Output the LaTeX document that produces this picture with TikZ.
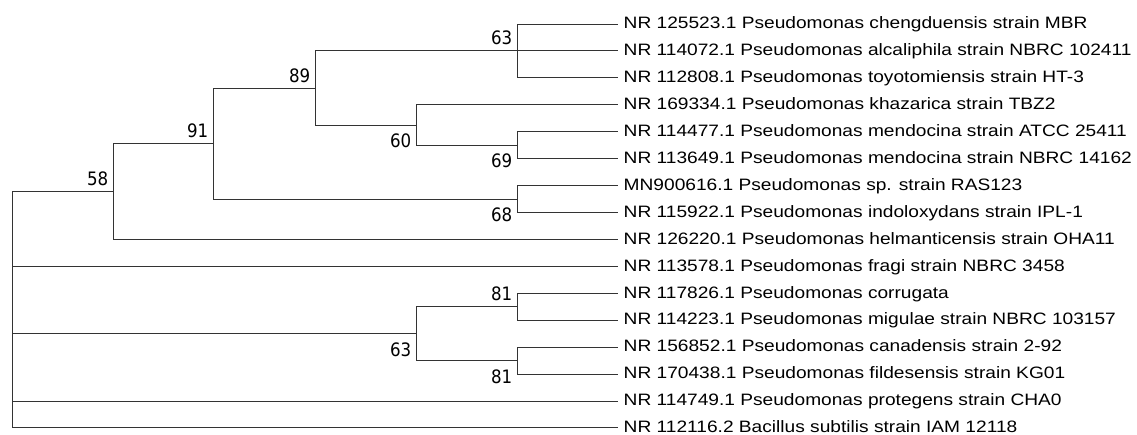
\documentclass[tikz,border=0pt]{standalone}
\usepackage{fontspec}
\newfontfamily\leaffont[FakeStretch=1.16]{Liberation Sans}
\newfontfamily\bsfont[FakeStretch=0.9]{DejaVu Sans}
\begin{document}
\begin{tikzpicture}[x=1pt,y=1pt,
  branch/.style={draw=black!80, line width=1pt},
  leaflab/.style={anchor=base west, inner sep=0pt, font=\leaffont\fontsize{16.5}{18}\selectfont},
  bsabove/.style={anchor=base east, inner sep=0pt, font=\bsfont\fontsize{18.5}{20}\selectfont, xshift=-4.5pt, yshift=6pt},
  bsbelow/.style={anchor=base east, inner sep=0pt, font=\bsfont\fontsize{18.5}{20}\selectfont, xshift=-4.5pt, yshift=-22.7pt}]
\useasboundingbox (0,0) rectangle (1137,-434);
% leaf ends
\foreach \i in {1,...,16}{
  \coordinate (t\i) at (618,{-(24+26.93*(\i-1))});
}
% internal nodes
\coordinate (n63a) at (517,-50.93);
\coordinate (n69) at (517,-145.2);
\coordinate (n60) at (416,-125.0);
\coordinate (n89) at (315,-88.0);
\coordinate (n68) at (517,-199.0);
\coordinate (n91) at (213,-143.5);
\coordinate (n58) at (113,-191.5);
\coordinate (n81a) at (517,-306.75);
\coordinate (n81b) at (517,-360.6);
\coordinate (n63b) at (416,-333.7);
\coordinate (root) at (12,-191.5);
% branches
\draw[branch] (root) |- (n58);
\draw[branch] (root) |- (t10);
\draw[branch] (root) |- (n63b);
\draw[branch] (root) |- (t15);
\draw[branch] (root) |- (t16);
\draw[branch] (n58) |- (n91);
\draw[branch] (n58) |- (t9);
\draw[branch] (n91) |- (n89);
\draw[branch] (n91) |- (n68);
\draw[branch] (n89) |- (n63a);
\draw[branch] (n89) |- (n60);
\draw[branch] (n63a) |- (t1);
\draw[branch] (n63a) |- (t2);
\draw[branch] (n63a) |- (t3);
\draw[branch] (n60) |- (t4);
\draw[branch] (n60) |- (n69);
\draw[branch] (n69) |- (t5);
\draw[branch] (n69) |- (t6);
\draw[branch] (n68) |- (t7);
\draw[branch] (n68) |- (t8);
\draw[branch] (n63b) |- (n81a);
\draw[branch] (n63b) |- (n81b);
\draw[branch] (n81a) |- (t11);
\draw[branch] (n81a) |- (t12);
\draw[branch] (n81b) |- (t13);
\draw[branch] (n81b) |- (t14);
% bootstrap values
\node[bsabove] (b63a) at (n63a) {63};
\node[bsabove] (b89) at (n89) {89};
\node[bsabove] (b91) at (n91) {91};
\node[bsabove] (b58) at (n58) {58};
\node[bsbelow] (b60) at (n60) {60};
\node[bsbelow] (b69) at (n69) {69};
\node[bsbelow] (b68) at (n68) {68};
\node[bsabove] (b81a) at (n81a) {81};
\node[bsbelow] (b63b) at (n63b) {63};
\node[bsbelow] (b81b) at (n81b) {81};
% leaf labels
\newcommand\leafat[3]{\node[leaflab] (#1) at ([xshift=5.5pt,yshift=-4.7pt]#2) {#3};}
\leafat{l1}{t1}{NR 125523.1 Pseudomonas chengduensis strain MBR}
\leafat{l2}{t2}{NR 114072.1 Pseudomonas alcaliphila strain NBRC 102411}
\leafat{l3}{t3}{NR 112808.1 Pseudomonas toyotomiensis strain HT-3}
\leafat{l4}{t4}{NR 169334.1 Pseudomonas khazarica strain TBZ2}
\leafat{l5}{t5}{NR 114477.1 Pseudomonas mendocina strain ATCC 25411}
\leafat{l6}{t6}{NR 113649.1 Pseudomonas mendocina strain NBRC 14162}
\leafat{l7}{t7}{MN900616.1 Pseudomonas sp. strain RAS123}
\leafat{l8}{t8}{NR 115922.1 Pseudomonas indoloxydans strain IPL-1}
\leafat{l9}{t9}{NR 126220.1 Pseudomonas helmanticensis strain OHA11}
\leafat{l10}{t10}{NR 113578.1 Pseudomonas fragi strain NBRC 3458}
\leafat{l11}{t11}{NR 117826.1 Pseudomonas corrugata}
\leafat{l12}{t12}{NR 114223.1 Pseudomonas migulae strain NBRC 103157}
\leafat{l13}{t13}{NR 156852.1 Pseudomonas canadensis strain 2-92}
\leafat{l14}{t14}{NR 170438.1 Pseudomonas fildesensis strain KG01}
\leafat{l15}{t15}{NR 114749.1 Pseudomonas protegens strain CHA0}
\leafat{l16}{t16}{NR 112116.2 Bacillus subtilis strain IAM 12118}
\end{tikzpicture}
\end{document}
